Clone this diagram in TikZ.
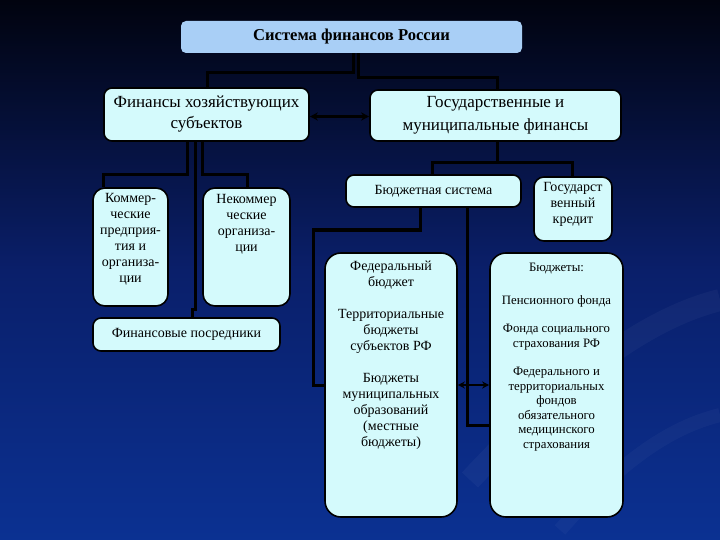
\documentclass[tikz,border=0pt]{standalone}
\usepackage{fontspec}
\setmainfont{Liberation Serif}
\usetikzlibrary{arrows.meta}
\definecolor{bgtop}{HTML}{01030F}
\definecolor{bgmid}{HTML}{0A1F6A}
\definecolor{bgbot}{HTML}{0B3192}
\definecolor{boxfill}{HTML}{D4FAFC}
\definecolor{topfill}{HTML}{A9CFF6}
\begin{document}
\begin{tikzpicture}[x=1pt,y=-1pt,
  box/.style={draw=black, line width=1.6pt, fill=boxfill, rounded corners=#1, inner sep=0pt},
  box/.default=6pt,
  txt/.style={align=center, inner sep=0pt, font=\fontsize{14}{16}\selectfont},
  conn/.style={draw=black, line width=3pt},
  dbl/.style={draw=black, line width=2.5pt, {Stealth[length=8pt,width=8pt]}-{Stealth[length=8pt,width=8pt]}},
]
% background
\shade[top color=bgtop, bottom color=bgbot, middle color=bgmid, shading angle=0] (0,0) rectangle (720,540);
\useasboundingbox (0,0) rectangle (720,540);
\draw[white, opacity=0.035, line width=22pt] (470,480) .. controls (600,340) and (680,310) .. (720,300);
\draw[white, opacity=0.03, line width=14pt] (560,530) .. controls (630,450) and (680,425) .. (720,415);

% boxes
\node[draw=none, fill=topfill, rounded corners=5pt, minimum width=341pt, minimum height=32pt, inner sep=0pt,
  font=\bfseries\fontsize{16.6}{18}\selectfont] (top) at (351.5,37) {Система финансов России};
\node[box=8pt, minimum width=205pt, minimum height=53pt, txt, font=\fontsize{17}{21}\selectfont]
  (fin) at (206.5,114.5) {Финансы хозяйствующих\\субъектов};
\node[box=8pt, minimum width=251pt, minimum height=51pt, txt, font=\fontsize{17}{23}\selectfont]
  (gos) at (495.5,115.5) {Государственные и\\муниципальные финансы};
\node[box=12pt, minimum width=75pt, minimum height=118pt] (kom) at (130.5,247) {};
\node[txt, anchor=north] (komT) at ([yshift=-6pt]kom.north) {Коммер-\\ческие\\предприя-\\тия и\\организа-\\ции};
\node[box=12pt, minimum width=87pt, minimum height=118pt] (nek) at (246.5,247) {};
\node[txt, anchor=north] (nekT) at ([yshift=-7pt]nek.north) {Некоммер\\ческие\\организа-\\ции};
\node[box=8pt, minimum width=187pt, minimum height=33pt, txt] (posr) at (186.5,334.5) {Финансовые посредники};
\node[box=8pt, minimum width=175pt, minimum height=32pt, txt] (bud) at (433.5,191) {Бюджетная система};
\node[box=10pt, minimum width=78pt, minimum height=64pt] (kred) at (573,209) {};
\node[txt, anchor=north] (kredT) at ([yshift=-6pt]kred.north) {Государст\\венный\\кредит};
\node[box=16pt, minimum width=132pt, minimum height=264pt] (fed) at (391,385) {};
\node[txt, anchor=north] (fedT) at ([yshift=-9pt]fed.north)
  {Федеральный\\бюджет\\[16pt]Территориальные\\бюджеты\\субъектов РФ\\[16pt]Бюджеты\\муниципальных\\образований\\(местные\\бюджеты)};
\node[box=16pt, minimum width=133pt, minimum height=264pt] (fonds) at (556.5,385) {};
\node[txt, anchor=north, font=\fontsize{12.8}{14.5}\selectfont] (fondsT) at ([yshift=-11pt]fonds.north)
  {Бюджеты:\\[18pt]Пенсионного фонда\\[14pt]Фонда социального\\страхования РФ\\[14pt]Федерального и\\территориальных\\фондов\\обязательного\\медицинского\\страхования};

% connectors
\draw[conn] (top.south -| 353,0) -- (353,73) -- (207,73) -- (fin.north -| 207,0);
\draw[conn] (top.south -| 358,0) -- (358,78) -- (497,78) -- (gos.north -| 497,0);
\draw[dbl] ([yshift=-2pt]fin.east) -- ([yshift=-2pt]gos.west |- fin.east);

\draw[conn] (fin.south -| 187,0) -- (187,175) -- (103,175) -- (kom.north -| 103,0);
\draw[conn] (fin.south -| 195,0) -- (195,309) -- (192,309) -- (posr.north -| 192,0);
\draw[conn] (fin.south -| 202,0) -- (202,175) -- (247,175) -- (nek.north -| 247,0);

\draw[conn] (gos.south -| 497,0) -- (497,163) -- (432,163) -- (bud.north -| 432,0);
\draw[conn] (497,163) -- (572,163) -- (kred.north -| 572,0);

\draw[conn] (bud.south -| 420,0) -- (420,230) -- (313,230) -- (313,385) -- (fed.west |- 0,385);
\draw[conn] (bud.south -| 467,0) -- (467,425) -- (fonds.west |- 0,425);
\draw[dbl, line width=1.8pt, {Stealth[length=7pt,width=7pt]}-{Stealth[length=7pt,width=7pt]}] (fed.east |- 0,385) -- (fonds.west |- 0,385);
\end{tikzpicture}
\end{document}
